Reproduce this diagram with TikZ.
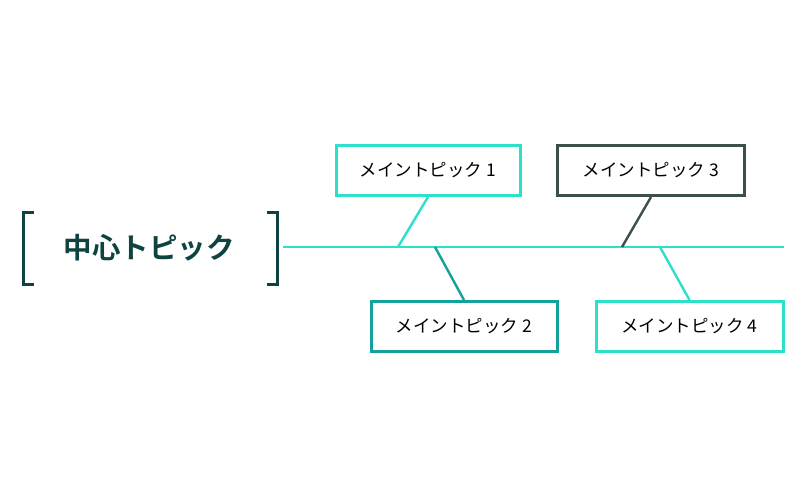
\documentclass[tikz,border=0pt]{standalone}
\usepackage{fontspec}
\newfontfamily\jpfont{Noto Sans CJK JP}
\newfontfamily\jpbold{Noto Sans CJK JP Bold}
\definecolor{turq}{HTML}{2EE0CA}
\definecolor{tealc}{HTML}{14A19C}
\definecolor{darkg}{HTML}{3D4F4B}
\definecolor{deep}{HTML}{0E4342}
\tikzset{
  mainbox/.style={draw=#1, line width=3pt, fill=white, minimum width=184pt, minimum height=50pt, inner sep=0pt, font=\jpfont\fontsize{17.5}{21}\selectfont, text=black},
  link/.style={draw=#1, line width=2.4pt},
  bracketline/.style={draw=deep, line width=3pt}
}
\begin{document}
\begin{tikzpicture}[x=1pt,y=-1pt]
\useasboundingbox (0,0) rectangle (800,496);
\fill[white] (0,0) rectangle (800,496);
% spine
\coordinate (s0) at (283,247);
\coordinate (s1) at (784,247);
\draw[link=turq] (s0) -- (s1);
% center topic
\draw[bracketline] (34,212) -- (23,212) -- (23,284) -- (34,284);
\draw[bracketline] (267,212) -- (277,212) -- (277,284) -- (267,284);
\node[font=\jpbold\fontsize{28.5}{34}\selectfont, text=deep] (center) at (149,248) {中心トピック};
% boxes
\node[mainbox=turq] (m1) at (428,170.5) {メイントピック 1};
\node[mainbox=darkg, minimum width=187pt] (m3) at (651,170.5) {メイントピック 3};
\node[mainbox=tealc, minimum width=186pt] (m2) at (464,326.5) {メイントピック 2};
\node[mainbox=turq, minimum width=187pt] (m4) at (689.5,326.5) {メイントピック 4};
% connection points on spine
\coordinate (c1) at (398,247);
\coordinate (c3) at (622,247);
\coordinate (c2) at (435,247);
\coordinate (c4) at (660,247);
\draw[link=turq] (m1.south) -- (c1);
\draw[link=darkg] (m3.south) -- (c3);
\draw[link=tealc] (c2) -- (m2.north);
\draw[link=turq] (c4) -- (m4.north);
\end{tikzpicture}
\end{document}
